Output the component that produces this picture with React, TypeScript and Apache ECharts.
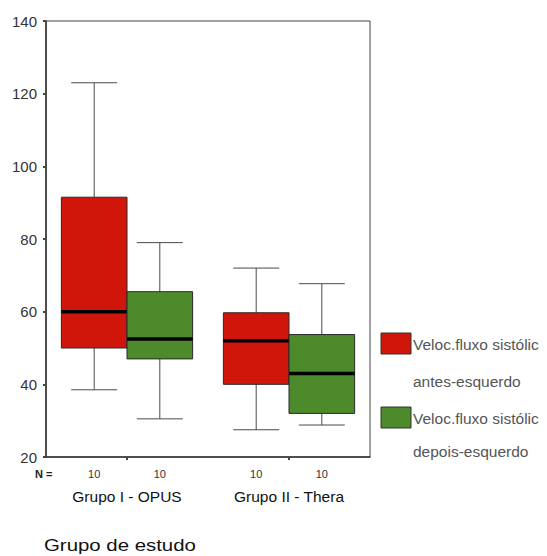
import React, { useEffect, useRef } from 'react';
import * as echarts from 'echarts';

const categories = ['Grupo I - OPUS', 'Grupo II - Thera'];
// [min, Q1, median, Q3, max]
const antesStats = [
  [38.5, 50, 60, 91.5, 123],
  [27.5, 40, 52, 59.7, 72],
];
const depoisStats = [
  [30.5, 47, 52.5, 65.5, 79],
  [28.8, 32, 43, 53.7, 67.7],
];
const antesN = [10, 10];
const depoisN = [10, 10];
const yMin = 20;
const yMax = 140;
const yStep = 20;
const legendLine1 = ['Veloc.fluxo sistólic', 'Veloc.fluxo sistólic'];
const legendLine2 = ['antes-esquerdo', 'depois-esquerdo'];
const xTitle = 'Grupo de estudo';
const nLabel = 'N =';

const RED = '#d0150b';
const GREEN = '#4d8a2b';
const FONT = '"Liberation Sans", Arial, sans-serif';

const makeRender = (side: number, color: string) => (params: any, api: any) => {
  const idx = api.value(0);
  const cx = api.coord([idx, api.value(1)])[0];
  const yLo = api.coord([idx, api.value(1)])[1];
  const yQ1 = api.coord([idx, api.value(2)])[1];
  const yMed = api.coord([idx, api.value(3)])[1];
  const yQ3 = api.coord([idx, api.value(4)])[1];
  const yHi = api.coord([idx, api.value(5)])[1];
  const yBase = api.coord([idx, yMin])[1];
  const band = api.size([1, 0])[0];
  const w = band * 0.405;
  const x0 = side < 0 ? cx - w : cx;
  const bc = x0 + w / 2;
  const cap = w * 0.7;
  const wStyle = { stroke: '#4a4a4a', lineWidth: 1 };
  return {
    type: 'group',
    children: [
      { type: 'line', shape: { x1: bc, y1: yHi, x2: bc, y2: yQ3 }, style: wStyle },
      { type: 'line', shape: { x1: bc, y1: yQ1, x2: bc, y2: yLo }, style: wStyle },
      { type: 'line', shape: { x1: bc - cap / 2, y1: yHi, x2: bc + cap / 2, y2: yHi }, style: wStyle },
      { type: 'line', shape: { x1: bc - cap / 2, y1: yLo, x2: bc + cap / 2, y2: yLo }, style: wStyle },
      {
        type: 'rect',
        shape: { x: x0, y: yQ3, width: w, height: yQ1 - yQ3 },
        style: { fill: color, stroke: '#2a2a2a', lineWidth: 1 },
      },
      { type: 'line', shape: { x1: x0, y1: yMed, x2: x0 + w, y2: yMed }, style: { stroke: '#000', lineWidth: 3.5 } },
      {
        type: 'text',
        x: bc,
        y: yBase + 17,
        style: {
          text: String(api.value(6)),
          fontSize: 11,
          fontFamily: FONT,
          fill: '#333',
          align: 'center',
          verticalAlign: 'middle',
        },
      },
    ],
  };
};

const buildData = (stats: number[][], ns: number[]) =>
  stats.map((s, i) => [i, s[0], s[1], s[2], s[3], s[4], ns[i]]);

export default function App() {
  const ref = useRef<HTMLDivElement>(null);
  useEffect(() => {
    if (!ref.current) return;
    const chart = echarts.init(ref.current, undefined, { renderer: 'svg' });
    const legendColors = [RED, GREEN];
    const legendTops = [333, 407];
    const legendGraphics: any[] = [];
    legendColors.forEach((c, i) => {
      legendGraphics.push({
        type: 'rect',
        shape: { x: 381, y: legendTops[i], width: 30, height: 21 },
        style: { fill: c, stroke: '#333', lineWidth: 1 },
      });
      legendGraphics.push({
        type: 'text',
        x: 413,
        y: legendTops[i] + 11,
        style: { text: legendLine1[i], fontSize: 15.5, fontFamily: FONT, fill: '#555', verticalAlign: 'middle' },
      });
      legendGraphics.push({
        type: 'text',
        x: 413,
        y: legendTops[i] + (i === 0 ? 48 : 44),
        style: { text: legendLine2[i], fontSize: 15.5, fontFamily: FONT, fill: '#555', verticalAlign: 'middle' },
      });
    });
    chart.setOption({
      animation: false,
      grid: {
        left: 46,
        right: 177,
        top: 21,
        bottom: 99,
        show: true,
        borderColor: '#444',
        borderWidth: 1,
        backgroundColor: 'transparent',
      },
      xAxis: {
        type: 'category',
        data: categories,
        boundaryGap: true,
        axisLine: { show: true, lineStyle: { color: '#333', width: 1.5 } },
        axisTick: { show: true, alignWithLabel: true, length: 3, lineStyle: { color: '#444', width: 2 } },
        axisLabel: { fontSize: 15.5, fontFamily: FONT, color: '#111', margin: 31 },
        splitLine: { show: false },
      },
      yAxis: {
        type: 'value',
        min: yMin,
        max: yMax,
        interval: yStep,
        axisLine: { show: true, lineStyle: { color: '#333', width: 1.5 } },
        axisTick: { show: true, length: 3, lineStyle: { color: '#444', width: 2 } },
        axisLabel: { fontSize: 15, fontFamily: FONT, color: '#333', margin: 9 },
        splitLine: { show: false },
      },
      series: [
        {
          type: 'custom',
          name: 'antes',
          clip: false,
          renderItem: makeRender(-1, RED),
          encode: { x: 0, y: [1, 2, 3, 4, 5] },
          data: buildData(antesStats, antesN),
        },
        {
          type: 'custom',
          name: 'depois',
          clip: false,
          renderItem: makeRender(1, GREEN),
          encode: { x: 0, y: [1, 2, 3, 4, 5] },
          data: buildData(depoisStats, depoisN),
        },
      ],
      graphic: [
        {
          type: 'text',
          x: 35,
          y: 474,
          style: { text: nLabel, fontSize: 11, fontWeight: 'bold', fontFamily: FONT, fill: '#222', verticalAlign: 'middle' },
        },
        {
          type: 'text',
          x: 44,
          y: 545,
          scaleX: 1.2,
          style: { text: xTitle, fontSize: 17, fontFamily: FONT, fill: '#111', verticalAlign: 'middle' },
        },
        ...legendGraphics,
      ],
    });
    return () => chart.dispose();
  }, []);
  return (
    <div
      ref={ref}
      style={{ position: 'absolute', left: 0, top: 0, width: 547, height: 556, background: '#fff' }}
    />
  );
}
